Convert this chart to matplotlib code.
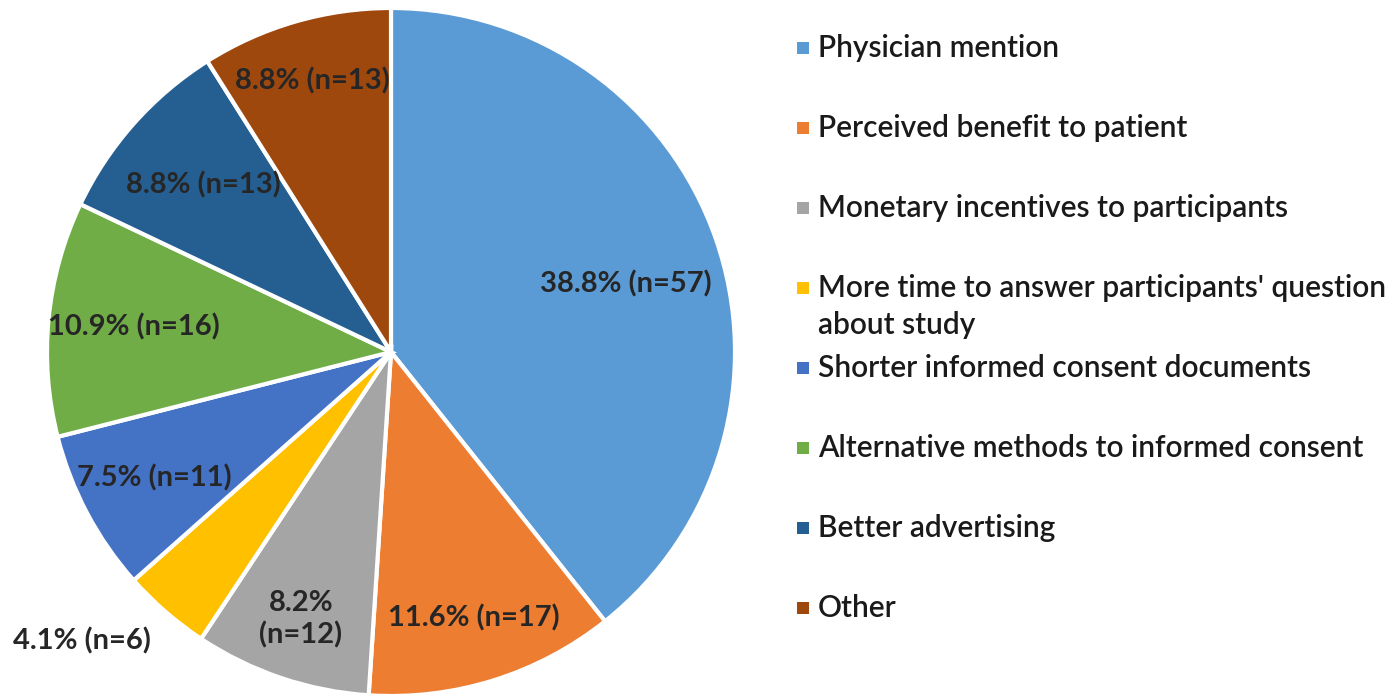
import matplotlib
matplotlib.use("Agg")
import matplotlib.pyplot as plt
import numpy as np

# Survey answers: what would improve recruitment (n per category)
categories = [
    "Physician mention",
    "Perceived benefit to patient",
    "Monetary incentives to participants",
    "More time to answer participants' question\nabout study",
    "Shorter informed consent documents",
    "Alternative methods to informed consent",
    "Better advertising",
    "Other",
]
counts = [57, 17, 12, 6, 11, 16, 13, 13]
pct_labels = ["38.8% (n=57)", "11.6% (n=17)", "8.2%\n(n=12)", "4.1% (n=6)",
              "7.5% (n=11)", "10.9% (n=16)", "8.8% (n=13)", "8.8% (n=13)"]
colors = ["#5B9BD5", "#ED7D31", "#A5A5A5", "#FFC000",
          "#4472C4", "#70AD47", "#255E91", "#9E480E"]

# radial position of each label (fraction of radius) and angle nudge (deg)
label_r = [0.71, 0.81, 0.82, 1.23, 0.78, 0.75, 0.73, 0.82]
label_nudge = [-3, 0, 0, -6, 0, 0, 0, 0]

plt.rcParams["font.family"] = ["Lato", "DejaVu Sans"]

fig = plt.figure(figsize=(14, 6.96), dpi=100)

# pie axes: centre ~ (391, 352) px, radius ~344 px
ax = fig.add_axes([47 / 1400, 0 / 696, 688 / 1400, 688 / 696])
wedges, _ = ax.pie(counts, colors=colors, startangle=90, counterclock=False,
                   wedgeprops=dict(edgecolor="white", linewidth=3))
ax.set_xlim(-1, 1)
ax.set_ylim(-1, 1)
ax.set_aspect("equal")
ax.axis("off")

for w, lab, r, dn in zip(wedges, pct_labels, label_r, label_nudge):
    mid = np.deg2rad((w.theta1 + w.theta2) / 2 + dn)
    ax.text(r * np.cos(mid), r * np.sin(mid), lab, ha="center", va="center",
            fontsize=21, fontweight="bold", color="#262626", linespacing=1.25)

# legend drawn in pixel coordinates
lax = fig.add_axes([0, 0, 1, 1])
lax.set_xlim(0, 1400)
lax.set_ylim(696, 0)
lax.axis("off")
for i, (cat, col) in enumerate(zip(categories, colors)):
    y = 48 + i * 80
    lax.scatter([803], [y], marker="s", s=80, color=col, linewidths=0)
    lax.text(818, y - 14, cat, ha="left", va="top", fontsize=21.5,
             color="#1a1a1a", linespacing=1.4, fontweight="semibold")

fig.savefig("out.png", dpi=100, facecolor="white")
